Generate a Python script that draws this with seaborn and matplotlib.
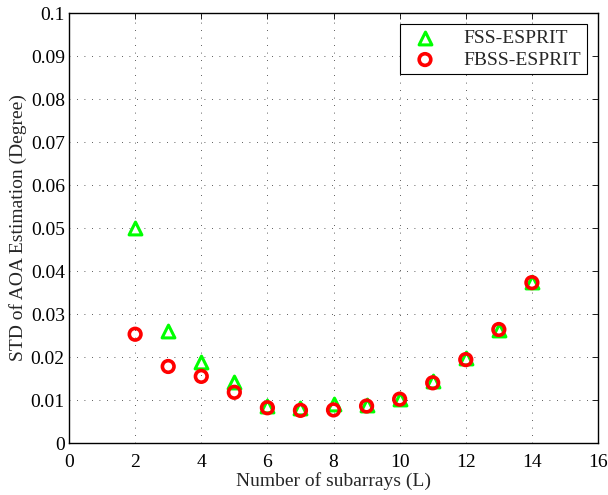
import matplotlib
matplotlib.use("Agg")
import matplotlib.pyplot as plt
import seaborn as sns
import pandas as pd

# Number of subarrays and the measured standard deviation of AOA estimates
subarrays = [2, 3, 4, 5, 6, 7, 8, 9, 10, 11, 12, 13, 14]
fss_std = [0.0500, 0.0260, 0.0188, 0.0142, 0.0087, 0.0082, 0.0090, 0.0088,
           0.0102, 0.0144, 0.0198, 0.0263, 0.0374]
fbss_std = [0.0253, 0.0178, 0.0155, 0.0118, 0.0082, 0.0076, 0.0077, 0.0086,
            0.0102, 0.0140, 0.0194, 0.0264, 0.0373]
x_ticks = [0, 2, 4, 6, 8, 10, 12, 14, 16]
y_ticks = [0, 0.01, 0.02, 0.03, 0.04, 0.05, 0.06, 0.07, 0.08, 0.09, 0.1]
y_tick_labels = ["0", "0.01", "0.02", "0.03", "0.04", "0.05", "0.06",
                 "0.07", "0.08", "0.09", "0.1"]

sns.set_theme(style="white")
plt.rcParams["font.family"] = ["Liberation Serif", "DejaVu Serif"]

df = pd.DataFrame({
    "L": subarrays * 2,
    "STD": fss_std + fbss_std,
    "Method": ["FSS-ESPRIT"] * len(subarrays) + ["FBSS-ESPRIT"] * len(subarrays),
})

fig = plt.figure(figsize=(6.08, 4.95), dpi=100)
ax = fig.add_axes([0.1135, 0.105, 0.8701, 0.8687])

sns.scatterplot(data=df[df.Method == "FSS-ESPRIT"], x="L", y="STD", ax=ax,
                marker="^", s=85, facecolor="white", edgecolor="#00ff00",
                linewidth=2.2, label="FSS-ESPRIT", zorder=3)
sns.scatterplot(data=df[df.Method == "FBSS-ESPRIT"], x="L", y="STD", ax=ax,
                marker="o", s=70, facecolor="none", edgecolor="#ff0000",
                linewidth=2.6, label="FBSS-ESPRIT", zorder=4)

ax.set_xlim(0, 16)
ax.set_ylim(0, 0.1)
ax.set_xticks(x_ticks)
ax.set_xticklabels([str(t) for t in x_ticks])
ax.set_yticks(y_ticks)
ax.set_yticklabels(y_tick_labels)
ax.grid(True, color="black", linestyle=(0, (1, 8)), linewidth=0.6, alpha=0.85)
ax.tick_params(direction="in", top=True, right=True, length=4, width=0.6,
               labelsize=14, colors="black", pad=3)
ax.tick_params(axis="x", pad=8)
for spine in ax.spines.values():
    spine.set_color("black")
    spine.set_linewidth(1.0)

ax.set_xlabel("Number of subarrays (L)", fontsize=14, labelpad=1)
ax.set_ylabel("STD of AOA Estimation (Degree)", fontsize=14, labelpad=3)

leg = ax.legend(loc="upper right", fontsize=14, frameon=True, fancybox=False,
                edgecolor="black", framealpha=1, borderpad=0.3,
                handletextpad=1.0, borderaxespad=0.55, labelspacing=0.2)
leg.get_frame().set_linewidth(0.8)

fig.savefig("out.png", dpi=100)
